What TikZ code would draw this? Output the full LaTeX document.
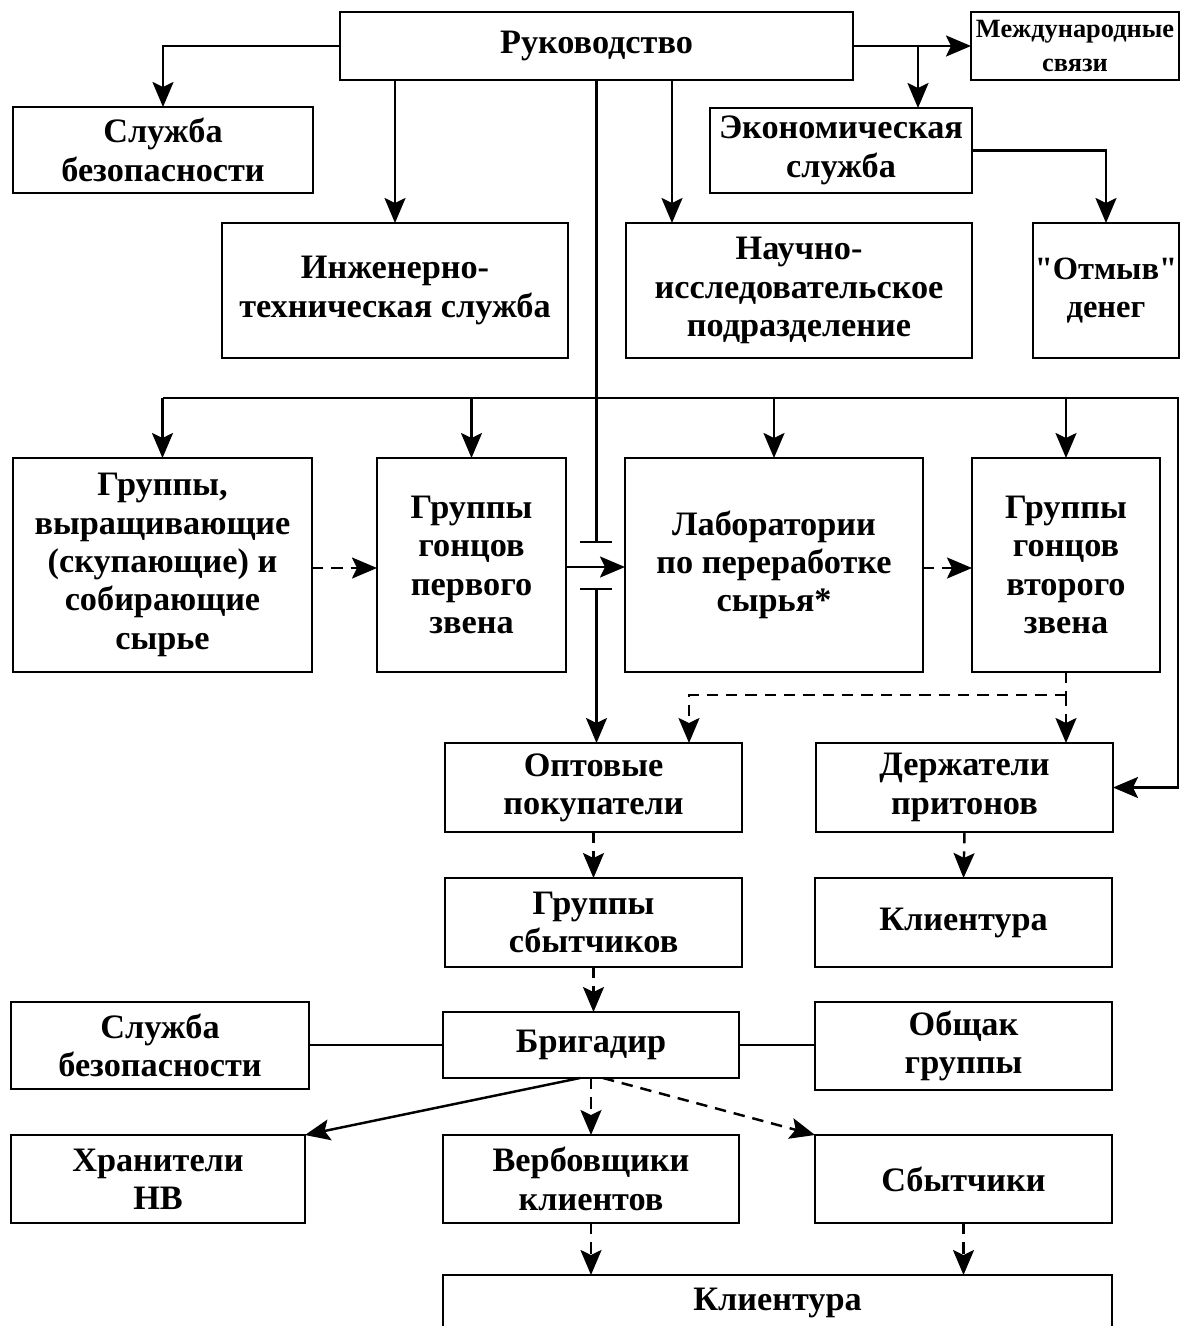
\documentclass[tikz,border=0pt]{standalone}
\usepackage{fontspec}
\setmainfont{Liberation Serif}[Ligatures=TeXOff]
\usetikzlibrary{arrows.meta}
\begin{document}
\begin{tikzpicture}[x=0.02cm,y=-0.02cm,
  box/.style={draw,line width=1.6pt,inner sep=0pt,outer sep=0pt,align=center,
    font=\bfseries\fontsize{19.5}{21.8}\selectfont},
  small/.style={font=\bfseries\fontsize{15}{19}\selectfont},
  narrow/.style={font=\bfseries\fontsize{18.5}{21.8}\selectfont},
  rect/.style args={#1/#2/#3/#4}{minimum width={(#3-#1)*0.02cm},
    minimum height={(#4-#2)*0.02cm}, at={({(#1+#3)/2},{(#2+#4)/2})}},
  ln/.style={line width=1.4pt},
  arr/.style={ln,-{Stealth[length=0.5cm,width=0.42cm,inset=0.1cm]}},
  darr/.style={arr,dash pattern=on 6.5pt off 4.5pt},
  dln/.style={ln,dash pattern=on 6.5pt off 4.5pt}]
\clip (0,0) rectangle (1182,1326);
\fill[white] (0,0) rectangle (1182,1326);

% boxes
\node[box,rect=340/12/853/80] (ruk) {Руководство};
\node[box,small,rect=971/12/1179/80] (mezh) {Международные\\связи};
\node[box,rect=13/107/313/193] (sb1) {Служба\\безопасности};
\node[box,rect=710/108/972/193] (econ) {Экономическая\\служба};
\node[box,rect=222/223/568/358] (inzh) {Инженерно-\\техническая служба};
\node[box,rect=626/223/972/358] (nauch) {Научно-\\исследовательское\\подразделение};
\node[box,narrow,rect=1033/223/1179/358] (otmyv) {"Отмыв"\\денег};
\node[box,rect=13/458/312/672] (grp) {Группы,\\выращивающие\\(скупающие) и\\собирающие\\сырье};
\node[box,rect=377/458/566/672] (gon1) {Группы\\гонцов\\первого\\звена};
\node[box,rect=625/458/923/672] (lab) {Лаборатории\\по переработке\\сырья*};
\node[box,rect=972/458/1160/672] (gon2) {Группы\\гонцов\\второго\\звена};
\node[box,rect=445/743/742/832] (opt) {Оптовые\\покупатели};
\node[box,rect=816/743/1113/832] (derzh) {Держатели\\притонов};
\node[box,rect=445/878/742/967] (sgr) {Группы\\сбытчиков};
\node[box,rect=815/878/1112/967] (kl1) {Клиентура};
\node[box,rect=11/1002/309/1089] (sb2) {Служба\\безопасности};
\node[box,rect=443/1012/739/1078] (brig) {Бригадир};
\node[box,rect=815/1002/1112/1090] (obsh) {Общак\\группы};
\node[box,rect=11/1135/305/1223] (hran) {Хранители\\НВ};
\node[box,rect=443/1135/739/1223] (verb) {Вербовщики\\клиентов};
\node[box,rect=815/1135/1112/1223] (sbyt) {Сбытчики};
\node[box,rect=443/1275/1112/1330] (kl2) {Клиентура};

% top connectors
\draw[arr] (ruk.west) -| (sb1.north);
\draw[arr] (ruk.south -| inzh.north) -- (inzh.north);
\draw[arr] (ruk.south -| 672,0) -- (nauch.north -| 672,0);
\draw[arr] (ruk.east) -- (mezh.west);
\draw[arr] (ruk.east -| 918,0) -- (econ.north -| 918,0);
\draw[arr] (econ.east) -| (otmyv.north);

% trunk with crossing
\draw[ln] (ruk.south) -- (ruk.south |- 0,542);
\draw[arr] (ruk.south |- 0,589) -- (opt.north -| ruk.south);
\draw[line width=1.1pt] (580,542) -- (612,542);
\draw[line width=1.1pt] (580,589) -- (612,589);

% distribution line
\draw[arr] (grp.north |- 0,398) -- (1178,398) |- (derzh.east);
\draw[arr] (grp.north |- 0,398) -- (grp.north);
\draw[arr] (gon1.north |- 0,398) -- (gon1.north);
\draw[arr] (lab.north |- 0,398) -- (lab.north);
\draw[arr] (gon2.north |- 0,398) -- (gon2.north);

% middle row
\draw[darr] (grp.east |- 0,568) -- (gon1.west |- 0,568);
\draw[arr] (gon1.east |- 0,567) -- (lab.west |- 0,567);
\draw[darr] (lab.east |- 0,568) -- (gon2.west |- 0,568);

% dashed distribution
\draw[dln] (gon2.south) -- (gon2.south |- 0,695);
\draw[darr] (gon2.south |- 0,695) -| (opt.north -| 689,0);
\draw[darr] (gon2.south |- 0,695) -- (derzh.north -| gon2.south);

\draw[darr] (opt.south) -- (sgr.north);
\draw[darr] (derzh.south) -- (kl1.north);
\draw[darr] (sgr.south) -- (brig.north -| sgr.south);

% brigadir
\draw[ln] (sb2.east |- brig.west) -- (brig.west);
\draw[ln] (brig.east) -- (obsh.west |- brig.east);
\draw[arr] (brig.south -| 580,0) -- (hran.north east);
\draw[darr] (brig.south) -- (verb.north);
\draw[darr] (brig.south -| 603,0) -- (sbyt.north west);
\draw[darr] (verb.south) -- (kl2.north -| verb.south);
\draw[darr] (sbyt.south) -- (kl2.north -| sbyt.south);
\end{tikzpicture}
\end{document}
